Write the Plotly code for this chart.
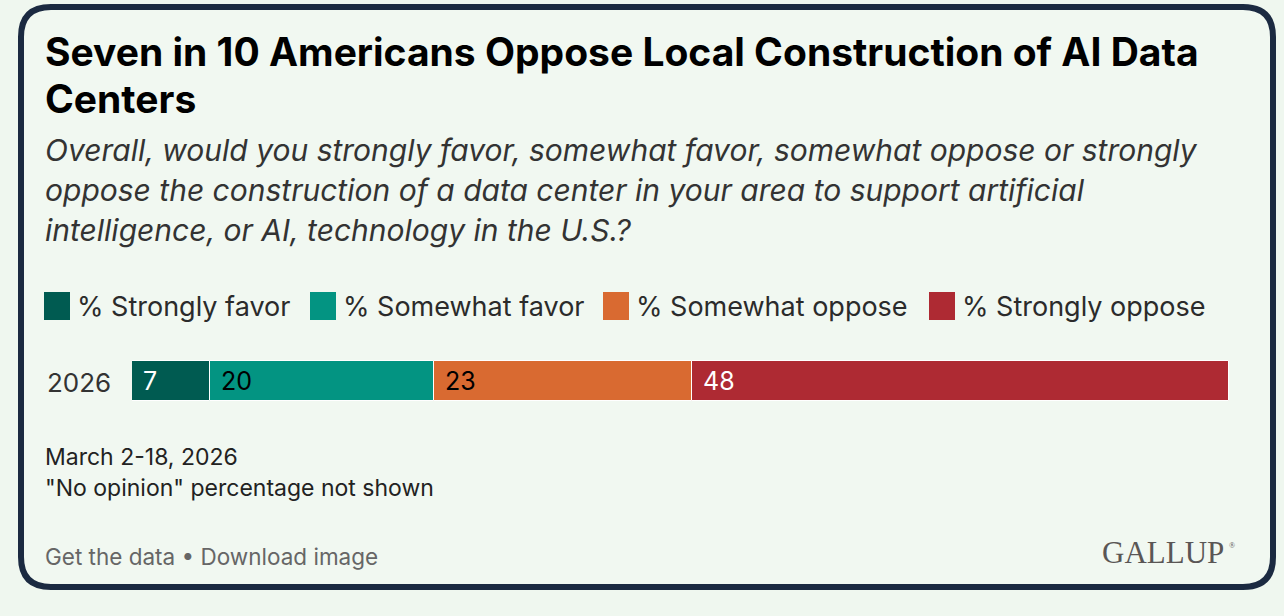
import plotly.graph_objects as go

W, H = 1284, 616
categories = ["% Strongly favor", "% Somewhat favor", "% Somewhat oppose", "% Strongly oppose"]
values = [7, 20, 23, 48]
year = ["2026"]
colors = ["#005b51", "#039482", "#d96a31", "#ae2a33"]
label_colors = ["white", "black", "black", "white"]

BG = "#eff7ef"
FONT = "Inter, 'Noto Sans', sans-serif"

def px(x):
    return x / W

def py(y):
    return 1 - y / H

fig = go.Figure()
base = 0
for cat, v, c in zip(categories, values, colors):
    fig.add_trace(go.Bar(
        x=[v], y=year, base=[base], orientation="h", name=cat,
        marker=dict(color=c, line=dict(color="white", width=1)),
        width=1, showlegend=False, hoverinfo="skip"
    ))
    base += v

annotations = []
# bar labels (category index of the single row)
row = year.index("2026")
base = 0
for v, lc in zip(values, label_colors):
    annotations.append(dict(x=base, y=row, xref="x", yref="y", text=str(v),
                            showarrow=False, xanchor="left", yanchor="middle", xshift=9,
                            font=dict(family=FONT, size=25, color=lc)))
    base += v

# category axis label
annotations.append(dict(x=px(113), y=py(382), xref="paper", yref="paper", text=year[0],
                        showarrow=False, xanchor="right", yanchor="middle",
                        font=dict(family=FONT, size=26, color="#333333")))

# title
for t, yy in [("Seven in 10 Americans Oppose Local Construction of AI Data", 52), ("Centers", 99)]:
    annotations.append(dict(x=px(43), y=py(yy), xref="paper", yref="paper", text="<b>" + t + "</b>",
                            showarrow=False, xanchor="left", yanchor="middle",
                            font=dict(family=FONT, size=39, color="#000000")))
sub = ["Overall, would you strongly favor, somewhat favor, somewhat oppose or strongly",
       "oppose the construction of a data center in your area to support artificial",
       "intelligence, or AI, technology in the U.S.?"]
for i, t in enumerate(sub):
    annotations.append(dict(x=px(43), y=py(150 + 40 * i), xref="paper", yref="paper", text="<i>" + t + "</i>",
                            showarrow=False, xanchor="left", yanchor="middle",
                            font=dict(family=FONT, size=30, color="#333333")))

# legend
shapes = []
leg_x = [44, 310, 603, 929]
for cat, c, lx in zip(categories, colors, leg_x):
    shapes.append(dict(type="rect", xref="paper", yref="paper", x0=px(lx), x1=px(lx + 26),
                       y0=py(320), y1=py(292), fillcolor=c, line=dict(width=0)))
    annotations.append(dict(x=px(lx + 31), y=py(306), xref="paper", yref="paper", text=cat,
                            showarrow=False, xanchor="left", yanchor="middle",
                            font=dict(family=FONT, size=27, color="#2b2b2b")))

# footnotes
for t, yy, col, sz in [("March 2-18, 2026", 457, "#222222", 23), ('"No opinion" percentage not shown', 488, "#222222", 23),
                       ("Get the data • Download image", 556, "#666666", 22.5)]:
    annotations.append(dict(x=px(43), y=py(yy), xref="paper", yref="paper", text=t,
                            showarrow=False, xanchor="left", yanchor="middle",
                            font=dict(family=FONT, size=sz, color=col)))
annotations.append(dict(x=px(1226), y=py(552), xref="paper", yref="paper", text="GALLUP",
                        showarrow=False, xanchor="right", yanchor="middle",
                        font=dict(family="'Liberation Serif', 'DejaVu Serif', serif", size=31, color="#5a5655")))
annotations.append(dict(x=px(1227), y=py(545), xref="paper", yref="paper", text="®",
                        showarrow=False, xanchor="left", yanchor="middle",
                        font=dict(family="'Liberation Serif', 'DejaVu Serif', serif", size=8, color="#5a5655")))

# card border (rounded rectangle)
x0, x1, y0, y1, r = 21, 1273, 7, 587, 30
rx, ry = r / W, r / H
X0, X1, Yt, Yb = px(x0), px(x1), py(y0), py(y1)
path = (f"M {X0+rx},{Yt} L {X1-rx},{Yt} Q {X1},{Yt} {X1},{Yt-ry} "
        f"L {X1},{Yb+ry} Q {X1},{Yb} {X1-rx},{Yb} "
        f"L {X0+rx},{Yb} Q {X0},{Yb} {X0},{Yb+ry} "
        f"L {X0},{Yt-ry} Q {X0},{Yt} {X0+rx},{Yt} Z")
shapes.insert(0, dict(type="path", path=path, xref="paper", yref="paper",
                      fillcolor="#f1f8f1", line=dict(color="#1b2a41", width=6), layer="below"))

fig.update_layout(
    width=W, height=H, margin=dict(l=0, r=0, t=0, b=0),
    paper_bgcolor=BG, plot_bgcolor="rgba(0,0,0,0)",
    barmode="overlay", bargap=0,
    xaxis=dict(domain=[px(132), px(1229)], range=[0, sum(values)], visible=False, fixedrange=True),
    yaxis=dict(type="category", domain=[py(421), py(341)], range=[-1, 1], visible=False, fixedrange=True),
    shapes=shapes, annotations=annotations, showlegend=False,
)
fig.write_html("out.html")
